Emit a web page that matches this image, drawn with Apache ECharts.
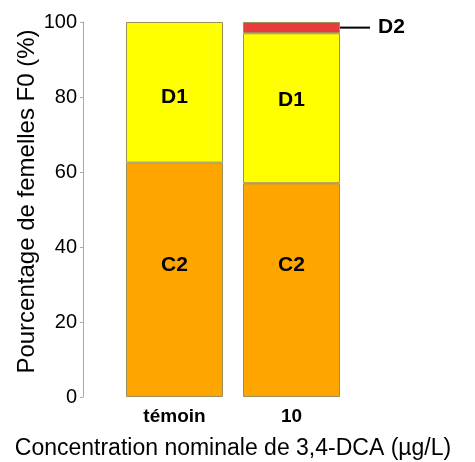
<!DOCTYPE html>
<html><head><meta charset="utf-8">
<script src="https://cdn.jsdelivr.net/npm/echarts@6/dist/echarts.min.js"></script>
<style>html,body{margin:0;padding:0;background:#fff;overflow:hidden}#c{width:475px;height:462px}</style>
</head><body><div id="c"></div>
<script>
const categories = ['témoin', '10'];
const c2 = [62.5, 57];
const d1 = [37.5, 40];
const d2 = [0, 3];
const yTicks = [0, 20, 40, 60, 80, 100];

const font = '"Liberation Sans", Arial, sans-serif';
const border = { borderColor: '#9c8f5a', borderWidth: 1 };
// label nudges (pixels) to mimic the reference placement
const c2Offsets = [[0, -15], [0, -25]];
const d1Offsets = [[0, 5], [0, -8]];
const inLabel = { show: true, fontFamily: font, fontWeight: 'bold', fontSize: 21, color: '#000' };

const chart = echarts.init(document.getElementById('c'), null, { renderer: 'canvas' });
chart.setOption({
  animation: false,
  grid: { left: 116, top: 22, width: 234, height: 375, outerBoundsMode: 'none', containLabel: false },
  xAxis: {
    type: 'category', data: categories,
    axisLine: { show: false }, axisTick: { show: false },
    axisLabel: { fontFamily: font, fontWeight: 'bold', fontSize: 19, color: '#000', margin: 10 },
    name: 'Concentration nominale de 3,4-DCA (µg/L)', nameLocation: 'middle', nameGap: 40,
    nameTextStyle: { fontFamily: font, fontSize: 23, color: '#000' }
  },
  yAxis: {
    type: 'value', min: yTicks[0], max: yTicks[yTicks.length - 1], interval: 20, offset: 33,
    axisLine: { show: true, lineStyle: { color: '#aaa' } },
    axisTick: { show: true, length: 3, lineStyle: { color: '#aaa' } },
    splitLine: { show: false },
    axisLabel: { fontFamily: font, fontSize: 20, color: '#000', margin: 6 },
    name: 'Pourcentage de femelles F0 (%)', nameLocation: 'middle', nameGap: 42,
    nameTextStyle: { fontFamily: font, fontSize: 24, color: '#000', padding: [0, 0, 0, 16] }
  },
  series: [
    { name: 'C2', type: 'bar', stack: 's', barWidth: 97,
      data: c2.map((v, i) => ({ value: v, label: { offset: c2Offsets[i] } })),
      itemStyle: Object.assign({ color: '#FFA500' }, border),
      label: Object.assign({ formatter: 'C2' }, inLabel) },
    { name: 'D1', type: 'bar', stack: 's', barWidth: 97,
      data: d1.map((v, i) => ({ value: v, label: { offset: d1Offsets[i] } })),
      itemStyle: Object.assign({ color: '#FFFF00' }, border),
      label: Object.assign({ formatter: 'D1' }, inLabel) },
    { name: 'D2', type: 'bar', stack: 's', barWidth: 97,
      data: d2.map(v => v > 0 ? v : { value: v, itemStyle: { borderWidth: 0 }, label: { show: false } }),
      itemStyle: Object.assign({ color: '#E83C3C' }, border),
      label: { show: true, position: 'right', distance: 0,
        formatter: '{ln|}{t|D2}',
        rich: {
          ln: { width: 30, height: 2, backgroundColor: '#000' },
          t: { fontFamily: font, fontWeight: 'bold', fontSize: 21, color: '#000', padding: [0, 0, 0, 8] }
        } } }
  ]
});
</script></body></html>
